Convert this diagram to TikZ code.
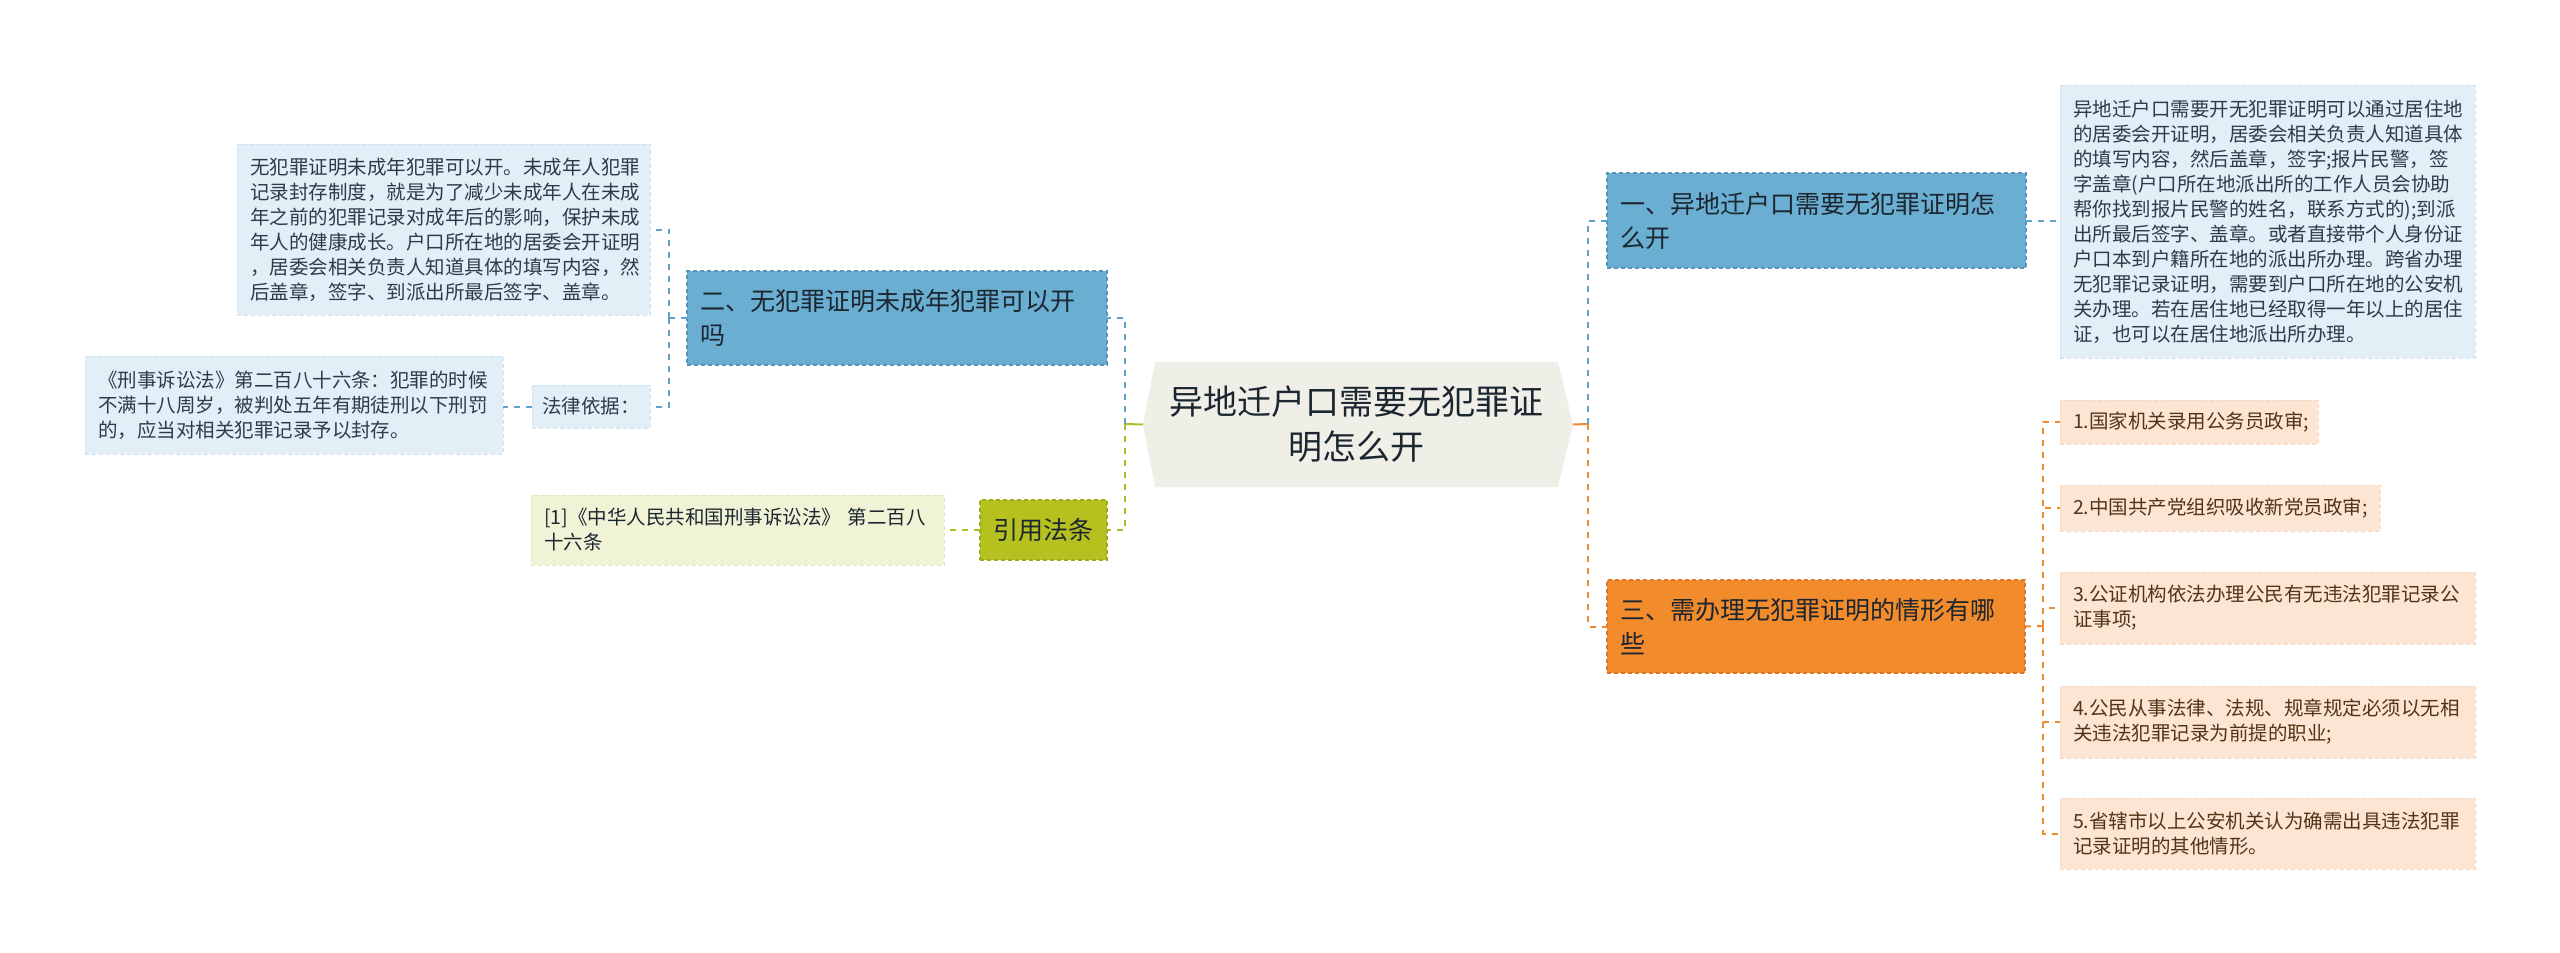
\documentclass[tikz,border=0pt]{standalone}
\usepackage{fontspec}
\setmainfont{Noto Sans CJK SC}
\usetikzlibrary{backgrounds}
\definecolor{cBlue}{RGB}{106,174,210}
\definecolor{cBlueD}{RGB}{88,148,188}
\definecolor{cBlueL}{RGB}{226,239,247}
\definecolor{cBlueLD}{RGB}{205,225,238}
\definecolor{cOr}{RGB}{242,139,44}
\definecolor{cOrD}{RGB}{222,120,38}
\definecolor{cPeach}{RGB}{252,229,211}
\definecolor{cPeachD}{RGB}{246,214,190}
\definecolor{cOl}{RGB}{182,192,30}
\definecolor{cOlD}{RGB}{158,168,24}
\definecolor{cOlL}{RGB}{241,243,214}
\definecolor{cOlLD}{RGB}{226,230,190}
\definecolor{cCen}{RGB}{239,239,231}
\definecolor{cTxt}{RGB}{28,38,48}
\definecolor{cTxtB}{RGB}{44,60,76}
\definecolor{cTxtO}{RGB}{84,52,24}
\definecolor{cLnB}{RGB}{98,160,204}
\definecolor{cLnG}{RGB}{170,190,40}
\definecolor{cLnO}{RGB}{238,138,50}
\tikzset{
  base/.style={anchor=north west, inner xsep=13pt, inner ysep=0pt, outer sep=0pt, align=left},
  bignode/.style={base, line width=1.2pt, dash pattern=on 4pt off 3pt, font=\fontsize{25}{34}\selectfont},
  bluenode/.style={bignode, fill=cBlue, draw=cBlueD, text=cTxt},
  ornode/.style={bignode, fill=cOr, draw=cOrD, text=cTxt},
  olnode/.style={bignode, fill=cOl, draw=cOlD, text=cTxt, align=center, inner xsep=0pt},
  smallbox/.style={base, line width=1pt, dash pattern=on 4pt off 3pt, font=\fontsize{19.5}{25}\selectfont},
  bluebox/.style={smallbox, fill=cBlueL, draw=cBlueLD, text=cTxtB},
  peachbox/.style={smallbox, fill=cPeach, draw=cPeachD, text=cTxtO},
  olbox/.style={smallbox, fill=cOlL, draw=cOlLD, text=cTxt},
  lnB/.style={draw=cLnB, line width=2pt, dash pattern=on 6pt off 6pt},
  lnG/.style={draw=cLnG, line width=2pt, dash pattern=on 6pt off 6pt},
  lnO/.style={draw=cLnO, line width=2pt, dash pattern=on 6pt off 6pt},
}
\begin{document}
\begin{tikzpicture}[x=1pt,y=-1pt]
\useasboundingbox (0,0) rectangle (2560,953);
% central
\node[anchor=north west, minimum width=403pt, minimum height=125pt, inner sep=0pt, outer sep=0pt,
  align=center, text=cTxt, font=\fontsize{34}{45}\selectfont] (cen) at (1155,362)
  {异地迁户口需要无犯罪证\\明怎么开};
\begin{scope}[on background layer]
\fill[cCen] (cen.north west) -- (cen.north east) -- ([xshift=15pt]cen.east) -- (cen.south east)
  -- (cen.south west) -- ([xshift=-12pt]cen.west) -- cycle;
\end{scope}
\coordinate (cL) at ([xshift=-12pt]cen.west);
\coordinate (cR) at ([xshift=15pt]cen.east);
\coordinate (jL) at (1125,424);
\coordinate (jR) at (1588,424);

% left side
\node[bluenode, text width=394pt, minimum height=94pt] (n2) at (687,271)
  {二、无犯罪证明未成年犯罪可以开\\吗};
\node[bluebox, text width=387pt, minimum height=171pt] (lt) at (237,144)
  {无犯罪证明未成年犯罪可以开。未成年人犯罪\\记录封存制度，就是为了减少未成年人在未成\\年之前的犯罪记录对成年后的影响，保护未成\\年人的健康成长。户口所在地的居委会开证明\\，居委会相关负责人知道具体的填写内容，然\\后盖章，签字、到派出所最后签字、盖章。};
\node[bluebox, inner xsep=10pt, text width=98pt, minimum height=43pt] (law) at (532,385)
  {法律依据：};
\node[bluebox, text width=392pt, minimum height=98pt] (xs) at (85,356)
  {《刑事诉讼法》第二百八十六条：犯罪的时候\\不满十八周岁，被判处五年有期徒刑以下刑罚\\的，应当对相关犯罪记录予以封存。};
\node[olnode, text width=127pt, minimum height=60pt] (cite) at (980,500) {引用法条};
\node[olbox, text width=387pt, minimum height=70pt] (ref) at (531,495)
  {[1]《中华人民共和国刑事诉讼法》 第二百八\\十六条};

% right side
\node[bluenode, text width=393pt, minimum height=95pt] (n1) at (1607,173)
  {一、异地迁户口需要无犯罪证明怎\\么开};
\node[bluebox, text width=389pt, minimum height=273pt] (rt) at (2060,85)
  {异地迁户口需要开无犯罪证明可以通过居住地\\的居委会开证明，居委会相关负责人知道具体\\的填写内容，然后盖章，签字;报片民警，签\\字盖章(户口所在地派出所的工作人员会协助\\帮你找到报片民警的姓名，联系方式的);到派\\出所最后签字、盖章。或者直接带个人身份证\\户口本到户籍所在地的派出所办理。跨省办理\\无犯罪记录证明，需要到户口所在地的公安机\\关办理。若在居住地已经取得一年以上的居住\\证，也可以在居住地派出所办理。};
\node[ornode, text width=392pt, minimum height=93pt] (n3) at (1607,580)
  {三、需办理无犯罪证明的情形有哪\\些};
\node[peachbox, text width=232pt, minimum height=44pt] (i1) at (2060,400) {1.国家机关录用公务员政审;};
\node[peachbox, text width=294pt, minimum height=46pt] (i2) at (2060,485) {2.中国共产党组织吸收新党员政审;};
\node[peachbox, text width=389pt, minimum height=72pt] (i3) at (2060,572) {3.公证机构依法办理公民有无违法犯罪记录公\\证事项;};
\node[peachbox, text width=389pt, minimum height=72pt] (i4) at (2060,686) {4.公民从事法律、法规、规章规定必须以无相\\关违法犯罪记录为前提的职业;};
\node[peachbox, text width=389pt, minimum height=71pt] (i5) at (2060,798) {5.省辖市以上公安机关认为确需出具违法犯罪\\记录证明的其他情形。};

% connectors left
\draw[draw=cLnG, line width=2pt] (cL) -- (jL);
\draw[lnB] (jL) |- (n2.east);
\draw[lnG] (jL) |- (cite.east);
\coordinate (j2) at (669,318);
\draw[lnB] (n2.west) -- (j2);
\draw[lnB] (j2) |- (lt.east);
\draw[lnB] (j2) |- (law.east);
\draw[lnB] (law.west) -- (law.west -| xs.east);
\draw[lnG] (cite.west) -- (ref.east);

% connectors right
\draw[draw=cLnO, line width=2pt] (cR) -- (jR);
\draw[lnB] (jR) |- (n1.west);
\draw[lnO] (jR) |- (n3.west);
\draw[lnB] (n1.east) -- (n1.east -| rt.west);
\coordinate (j3) at (2043,626);
\draw[lnO] (n3.east) -- (j3);
\draw[lnO] (j3) |- (i1.west);
\draw[lnO] (j3) |- (i2.west);
\draw[lnO] (j3) |- (i3.west);
\draw[lnO] (j3) |- (i4.west);
\draw[lnO] (j3) |- (i5.west);
\end{tikzpicture}
\end{document}
